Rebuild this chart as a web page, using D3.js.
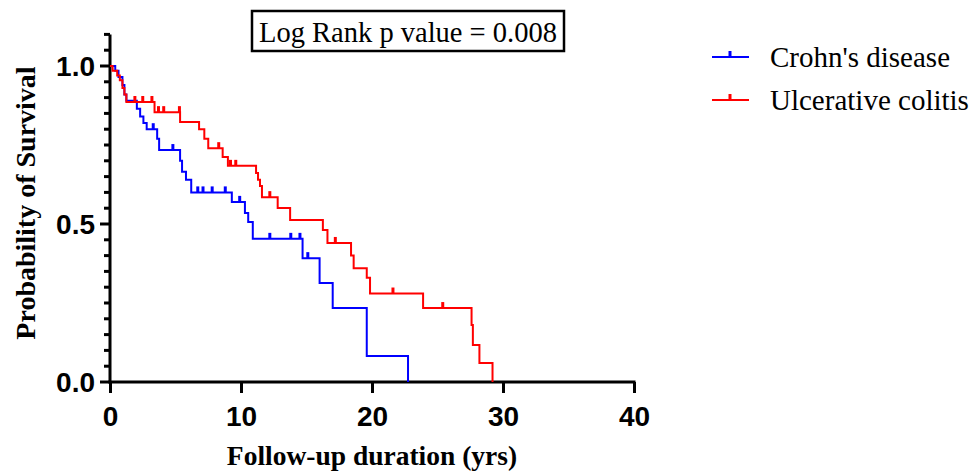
<!DOCTYPE html>
<html>
<head>
<meta charset="utf-8">
<script src="https://cdn.jsdelivr.net/npm/d3@7"></script>
<style>
  body { margin: 0; background: #fff; }
  svg { display: block; }
</style>
</head>
<body>
<div id="chart"></div>
<script>
const WIDTH = 970;
const HEIGHT = 472;

// Kaplan-Meier steps: time (yrs) at which survival drops, and the new survival value
const crohnTimes = [0, 0.4, 0.65, 0.95, 1.1, 1.25, 2.05, 2.3, 2.55, 2.8, 3.6, 3.75, 5.35, 5.5, 5.8, 6.2, 9.3, 10.3, 10.55, 10.9, 14.7, 16.0, 17.0, 19.6, 22.75];
const crohnSurv  = [1, 0.985, 0.965, 0.94, 0.91, 0.89, 0.865, 0.84, 0.82, 0.80, 0.77, 0.734, 0.70, 0.665, 0.64, 0.60, 0.57, 0.535, 0.506, 0.453, 0.392, 0.313, 0.234, 0.082, 0];
const crohnCensored = [3.3, 4.8, 6.7, 7.1, 7.8, 8.8, 9.9, 12.2, 13.8, 14.5, 15.1];

const ucTimes = [0, 0.2, 0.55, 0.75, 0.95, 1.1, 1.25, 3.4, 5.35, 6.8, 7.2, 7.5, 8.6, 9.0, 11.15, 11.3, 11.45, 11.6, 12.8, 13.75, 16.25, 16.6, 18.4, 18.6, 19.6, 19.85, 23.9, 27.6, 27.7, 28.2, 29.2];
const ucSurv  = [1, 0.985, 0.97, 0.955, 0.93, 0.91, 0.886, 0.854, 0.823, 0.80, 0.77, 0.74, 0.712, 0.684, 0.661, 0.64, 0.62, 0.585, 0.551, 0.513, 0.481, 0.44, 0.40, 0.36, 0.33, 0.28, 0.234, 0.18, 0.117, 0.06, 0];
const ucCensored = [1.9, 2.5, 3.2, 3.7, 4.1, 5.3, 8.3, 9.2, 9.6, 12.2, 17.2, 21.6, 25.4];

const seriesNames = ["Crohn's disease", 'Ulcerative colitis'];
const seriesColors = ['#0000ff', '#ff0000'];
const xTicks = [0, 10, 20, 30, 40];
const yLabelTicks = [0, 0.5, 1.0];
const pValueText = 'Log Rank p value = 0.008';

const SANS = '"Liberation Sans", Arial, sans-serif';
const SERIF = '"Liberation Serif", "Times New Roman", serif';

const svg = d3.select('#chart')
  .append('svg')
  .attr('width', WIDTH)
  .attr('height', HEIGHT);

const xScale = d3.scaleLinear().domain([0, 40]).range([110, 634]);
const yScale = d3.scaleLinear().domain([0, 1]).range([382, 66]);

// step curves
const line = d3.line()
  .x(d => xScale(d[0]))
  .y(d => yScale(d[1]))
  .curve(d3.curveStepAfter);

// survival at time t (value after the last drop at or before t)
function survAt(times, surv, t) {
  let s = surv[0];
  for (let i = 0; i < times.length; i++) {
    if (times[i] <= t) s = surv[i];
  }
  return s;
}

const series = [
  { times: crohnTimes, surv: crohnSurv, cens: crohnCensored, color: seriesColors[0] },
  { times: ucTimes, surv: ucSurv, cens: ucCensored, color: seriesColors[1] }
];

// axes
const xAxis = d3.axisBottom(xScale).tickValues(xTicks).tickSize(11).tickFormat(d3.format('d'));
const gx = svg.append('g')
  .attr('transform', `translate(0, ${yScale(0)})`)
  .call(xAxis);
gx.select('.domain').attr('stroke-width', 3).attr('d', `M${xScale(0) - 1.5},0H${xScale(40) + 1.5}`);
gx.selectAll('.tick line').attr('stroke-width', 3);
gx.selectAll('.tick text')
  .attr('y', 24)
  .style('font-family', SANS)
  .style('font-weight', 'bold')
  .style('font-size', '28px');

const yMinor = d3.range(0, 1.1001, 0.05);
const gy = svg.append('g').attr('transform', `translate(${xScale(0)}, 0)`);
gy.append('line')
  .attr('x1', 0).attr('x2', 0)
  .attr('y1', yScale(0) + 1.5).attr('y2', yScale(1.1))
  .attr('stroke', '#000').attr('stroke-width', 3);
gy.selectAll('line.minor')
  .data(yMinor)
  .enter()
  .append('line')
  .attr('class', 'minor')
  .attr('x1', d => yLabelTicks.some(v => Math.abs(v - d) < 1e-6) ? -10 : -6)
  .attr('x2', 0)
  .attr('y1', d => yScale(d))
  .attr('y2', d => yScale(d))
  .attr('stroke', '#000')
  .attr('stroke-width', 3);
gy.selectAll('text')
  .data(yLabelTicks)
  .enter()
  .append('text')
  .attr('x', -15)
  .attr('y', d => yScale(d))
  .attr('dy', '0.36em')
  .attr('text-anchor', 'end')
  .style('font-family', SANS)
  .style('font-weight', 'bold')
  .style('font-size', '28px')
  .text(d => d3.format('.1f')(d));

// curves and censor ticks
series.forEach(s => {
  svg.append('path')
    .datum(s.times.map((t, i) => [t, s.surv[i]]))
    .attr('d', line)
    .attr('fill', 'none')
    .attr('stroke', s.color)
    .attr('stroke-width', 2);

  svg.selectAll(null)
    .data(s.cens)
    .enter()
    .append('line')
    .attr('x1', d => xScale(d))
    .attr('x2', d => xScale(d))
    .attr('y1', d => yScale(survAt(s.times, s.surv, d)))
    .attr('y2', d => yScale(survAt(s.times, s.surv, d)) - 6)
    .attr('stroke', s.color)
    .attr('stroke-width', 3);
});

// axis titles
svg.append('text')
  .attr('x', (xScale(0) + xScale(40)) / 2)
  .attr('y', 465)
  .attr('text-anchor', 'middle')
  .style('font-family', SERIF)
  .style('font-weight', 'bold')
  .style('font-size', '27.5px')
  .text('Follow-up duration (yrs)');

svg.append('text')
  .attr('transform', 'translate(35, 203) rotate(-90)')
  .attr('text-anchor', 'middle')
  .style('font-family', SERIF)
  .style('font-weight', 'bold')
  .style('font-size', '28px')
  .text('Probability of Survival');

// p value box
const box = svg.append('g');
box.append('rect')
  .attr('x', 252).attr('y', 11)
  .attr('width', 312).attr('height', 40)
  .attr('fill', '#fff')
  .attr('stroke', '#000')
  .attr('stroke-width', 2.5);
box.append('text')
  .attr('x', 408).attr('y', 32)
  .attr('dy', '0.35em')
  .attr('text-anchor', 'middle')
  .style('font-family', SERIF)
  .style('font-size', '28.5px')
  .text(pValueText);

// legend
const legend = svg.append('g');
seriesNames.forEach((name, i) => {
  const y = 57 + i * 43;
  legend.append('line')
    .attr('x1', 712).attr('x2', 749)
    .attr('y1', y).attr('y2', y)
    .attr('stroke', seriesColors[i]).attr('stroke-width', 2);
  legend.append('line')
    .attr('x1', 730).attr('x2', 730)
    .attr('y1', y).attr('y2', y - 6)
    .attr('stroke', seriesColors[i]).attr('stroke-width', 3);
  legend.append('text')
    .attr('x', 770).attr('y', y)
    .attr('dy', '0.33em')
    .style('font-family', SERIF)
    .style('font-size', '29px')
    .text(name);
});
</script>
</body>
</html>
